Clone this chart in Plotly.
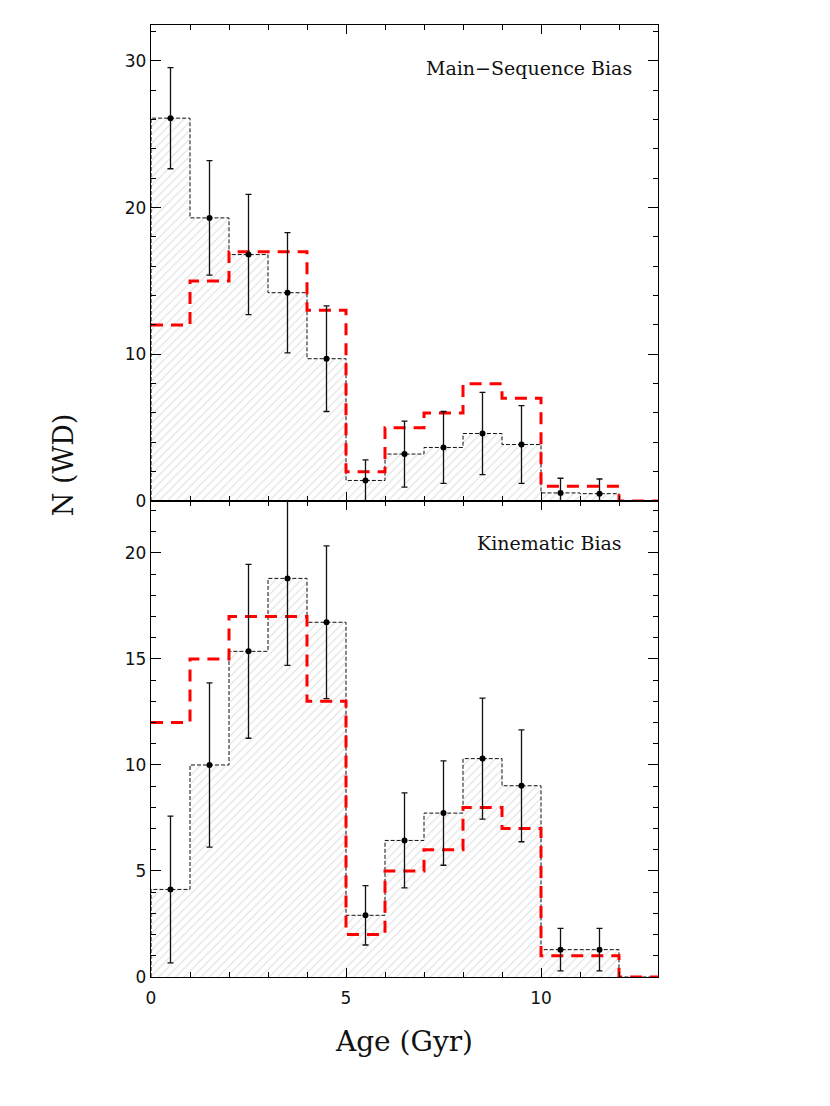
import plotly.graph_objects as go
from plotly.subplots import make_subplots

# ---- data ----
bin_edges = list(range(14))            # Age bins 0..13 Gyr
bin_centers = [e + 0.5 for e in bin_edges[:-1]]

ms_counts = [26.1, 19.3, 16.8, 14.2, 9.7, 1.4, 3.2, 3.65, 4.6, 3.85, 0.55, 0.5, 0]
ms_err = [3.45, 3.9, 4.1, 4.1, 3.6, 1.4, 2.25, 2.45, 2.8, 2.65, 1.0, 1.0, 0]

kin_counts = [4.13, 10.0, 15.36, 18.8, 16.73, 2.91, 6.44, 7.73, 10.3, 9.02, 1.29, 1.29, 0]
kin_err = [3.46, 3.87, 4.1, 4.1, 3.6, 1.4, 2.24, 2.46, 2.85, 2.64, 1.0, 1.0, 0]

model_counts = [12, 15, 17, 17, 13, 2, 5, 6, 8, 7, 1, 1, 0]

panel_labels = ["Main\u2212Sequence Bias", "Kinematic Bias"]
x_ticks = [0, 5, 10]
y_ticks_top = [0, 10, 20, 30]
y_ticks_bot = [0, 5, 10, 15, 20]

SERIF = "DejaVu Serif"
TICKFONT = dict(family="DejaVu Sans", size=17, color="#111")

fig = make_subplots(rows=2, cols=1, shared_xaxes=True, vertical_spacing=0)


def add_panel(row, counts, errs):
    # hatched histogram fill
    fig.add_trace(go.Bar(
        x=bin_centers, y=counts, width=1.0,
        marker=dict(color="white", line=dict(width=0),
                    pattern=dict(shape="/", fgcolor="#bdbdbd", bgcolor="white",
                                 size=6, solidity=0.18)),
        showlegend=False, hoverinfo="skip"), row=row, col=1)
    # dashed step outline
    sx = [bin_edges[0]] + bin_edges
    sy = [0] + counts + [counts[-1]]
    fig.add_trace(go.Scatter(
        x=sx, y=sy, mode="lines", line_shape="hv",
        line=dict(color="#111", width=1, dash="4px,2px"),
        showlegend=False, hoverinfo="skip"), row=row, col=1)
    # red model histogram
    fig.add_trace(go.Scatter(
        x=bin_edges, y=model_counts + [model_counts[-1]], mode="lines", line_shape="hv",
        line=dict(color="#ff0000", width=3, dash="12px,8px"),
        showlegend=False, hoverinfo="skip"), row=row, col=1)
    # points with error bars
    px = [c for c, v in zip(bin_centers, counts) if v > 0]
    py = [v for v in counts if v > 0]
    pe = [e for v, e in zip(counts, errs) if v > 0]
    pem = [min(e, v) for v, e in zip(py, pe)]
    fig.add_trace(go.Scatter(
        x=px, y=py, mode="markers",
        marker=dict(color="black", size=6),
        error_y=dict(type="data", array=pe, arrayminus=pem, symmetric=False,
                     color="#111", thickness=1.3, width=3),
        showlegend=False), row=row, col=1)


add_panel(1, ms_counts, ms_err)
add_panel(2, kin_counts, kin_err)

axis_common = dict(showline=True, linecolor="black", linewidth=1.3, mirror="ticks",
                   ticks="inside", showgrid=False, zeroline=False, tickcolor="black",
                   tickwidth=1, tickfont=TICKFONT)

fig.update_xaxes(range=[0, 13], tickvals=x_ticks, ticklen=9, ticklabelstandoff=5,
                 minor=dict(dtick=1, ticklen=5, ticks="inside", tickcolor="black"),
                 **axis_common)
fig.update_xaxes(showticklabels=False, row=1, col=1)
fig.update_xaxes(title=dict(text="Age (Gyr)", font=dict(family=SERIF, size=28, color="#111"),
                            standoff=24), row=2, col=1)

fig.update_yaxes(range=[0, 32.45], tickvals=y_ticks_top, ticklen=10,
                 minor=dict(dtick=2, ticklen=5, ticks="inside", tickcolor="black"),
                 row=1, col=1, **axis_common)
fig.update_yaxes(range=[0, 22.45], tickvals=y_ticks_bot, ticklen=10,
                 minor=dict(dtick=1, ticklen=5, ticks="inside", tickcolor="black"),
                 row=2, col=1, **axis_common)

fig.add_annotation(text=panel_labels[0], xref="x domain", yref="y domain",
                   x=0.953, y=0.91, xanchor="right", yanchor="middle", showarrow=False,
                   font=dict(family=SERIF, size=19, color="#111"))
fig.add_annotation(text=panel_labels[1], xref="x2 domain", yref="y2 domain",
                   x=0.933, y=0.912, xanchor="right", yanchor="middle", showarrow=False,
                   font=dict(family=SERIF, size=19, color="#111"))
fig.add_annotation(text="N (WD)", xref="paper", yref="paper", x=-0.173, y=1.0 - (465 - 25) / 952,
                   xanchor="center", yanchor="middle", showarrow=False, textangle=-90,
                   font=dict(family=SERIF, size=27, color="#111"))

# page body has an 8px default margin, so the figure is offset by 8px
fig.update_layout(width=830, height=1106, margin=dict(l=143, r=180, t=17, b=137),
                  plot_bgcolor="white", paper_bgcolor="white", bargap=0,
                  showlegend=False)

fig.write_html("out.html")
